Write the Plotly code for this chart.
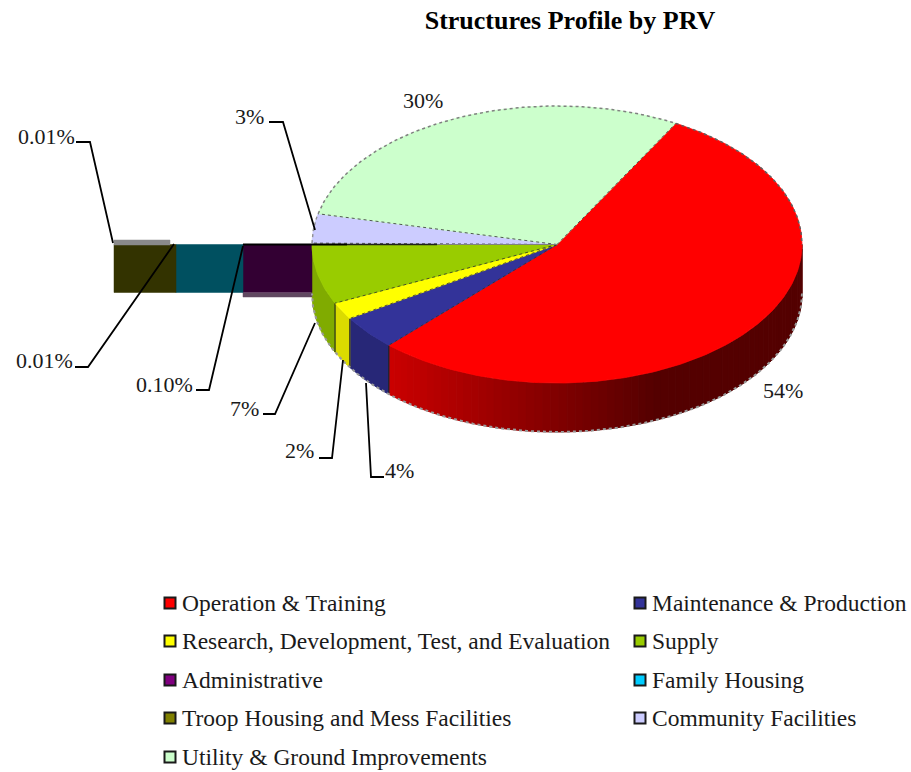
import math
import plotly.graph_objects as go

# ---- data ----
categories = ["Operation & Training", "Maintenance & Production",
              "Research, Development, Test, and Evaluation", "Supply",
              "Administrative", "Family Housing",
              "Troop Housing and Mess Facilities", "Community Facilities",
              "Utility & Ground Improvements"]
values = [54.0, 4.0, 2.0, 7.0, 0.10, 0.01, 0.01, 3.4, 29.5]
value_labels = ["54%", "4%", "2%", "7%", "0.10%", "0.01%", "0.01%", "3%", "30%"]
colors = ["#ff0000", "#333399", "#ffff00", "#99cc00", "#800080",
          "#00ccff", "#808000", "#ccccff", "#ccffcc"]
title_text = "Structures Profile by PRV"

# ---- projection of the tilted pie, in page pixels ----
CX, CY, RX, RY, DEPTH = 557.0, 244.5, 245.0, 138.5, 49.0
START_DEG = 61.0
FONT = "Liberation Serif"
TEXT = "#1a1a1a"
PAGE_W, PAGE_H = 911, 772


def pt(deg, dy=0.0):
    r = math.radians(deg)
    return CX + RX * math.cos(r), CY - RY * math.sin(r) + dy


def arc(a0, a1, dy=0.0, step=1.0):
    n = max(2, int(abs(a1 - a0) / step) + 1)
    return [pt(a0 + (a1 - a0) * i / (n - 1), dy) for i in range(n)]


def poly(points, color, width=0.0, line=None):
    return go.Scatter(x=[p[0] for p in points] + [points[0][0]],
                      y=[p[1] for p in points] + [points[0][1]],
                      mode="lines", fill="toself", fillcolor=color,
                      line=dict(color=line or color, width=width),
                      hoverinfo="skip", showlegend=False)


def path(points, color, width=1.0, dash="solid"):
    return go.Scatter(x=[p[0] for p in points], y=[p[1] for p in points],
                      mode="lines", line=dict(color=color, width=width, dash=dash),
                      hoverinfo="skip", showlegend=False)


def shade(color, f):
    r, g, b = int(color[1:3], 16), int(color[3:5], 16), int(color[5:7], 16)
    return "rgb(%d,%d,%d)" % (r * f, g * f, b * f)


total = sum(values)
spans = []
a = START_DEG
for v in values:
    spans.append((a, a - 360.0 * v / total))
    a -= 360.0 * v / total

fig = go.Figure()

# side walls: only the part of the rim facing the viewer
wall_factor = {1: 0.78, 2: 0.86, 3: 0.84}
for i, (a0, a1) in enumerate(spans):
    if a1 >= 0 or a0 <= -180:
        continue
    s0, s1 = min(a0, 0.0), max(a1, -180.0)
    if i == 0:
        # red wall: gradient from left (lit) to right (dark)
        n = 70
        for k in range(n):
            b0 = s1 + (s0 - s1) * k / n
            b1 = s1 + (s0 - s1) * (k + 1) / n
            x = pt((b0 + b1) / 2)[0]
            f = max(0.33, 0.80 - 0.47 * (x - 388) / 270)
            pts = arc(b0, b1, 0.0, 0.5) + arc(b1, b0, DEPTH, 0.5)
            fig.add_trace(poly(pts, shade(colors[0], f), 1.0))
    else:
        pts = arc(s0, s1) + arc(s1, s0, DEPTH)
        fig.add_trace(poly(pts, shade(colors[i], wall_factor.get(i, 0.8)), 1.0))
        fig.add_trace(path([pt(s0), pt(s0, DEPTH)], "#202020", 1.0))

# thin slices drawn as a flat band running out to the left
band_top, band_bottom = CY, CY + 48
band_edges = [312, 243, 176, 114]
band_cols = ["#330033", "#005060", "#333300"]
for k in range(3):
    x0, x1 = band_edges[k], band_edges[k + 1]
    fig.add_trace(poly([(x0, band_top), (x1, band_top), (x1, band_bottom), (x0, band_bottom)],
                       band_cols[k], 0.5))
fig.add_trace(poly([(114, 240), (170, 240), (170, 245), (114, 245)], "#8a8a8a", 0.5))
fig.add_trace(poly([(243, 293), (312, 293), (312, 297), (243, 297)], "#604860", 0.5))

# top face
for i, (a0, a1) in enumerate(spans):
    if abs(a0 - a1) < 0.5:
        continue
    fig.add_trace(poly([(CX, CY)] + arc(a0, a1), colors[i], 0.8))

# wedge separators
for i, (a0, a1) in enumerate(spans):
    if i in (4, 5, 6):
        continue
    fig.add_trace(path([(CX, CY), pt(a0)], "#303030", 0.8, "dot"))
fig.add_trace(path([(243, CY), (347, CY)], "#000000", 2.0))
fig.add_trace(path([(347, CY), (437, CY)], "#202020", 1.4))
fig.add_trace(path([(437, CY), (CX, CY)], "#808080", 1.2))

# jagged grey rim
fig.add_trace(path(arc(spans[7][0], spans[7][1]), "#909090", 1.4, "dot"))
fig.add_trace(path(arc(spans[8][0], spans[8][1]), "#808080", 1.5, "dot"))
fig.add_trace(path(arc(spans[0][0], 0.0), "#606060", 1.5, "dot"))
fig.add_trace(path(arc(0.0, -180.0, DEPTH), "#9a9a9a", 2.0, "dot"))

# leader lines (stub + diagonal)
leaders = [
    [(76, 142), (90, 142), (113, 243)],
    [(269, 122), (283, 122), (315, 230)],
    [(75, 367), (88, 367), (174, 244)],
    [(196, 390), (209, 390), (243, 246)],
    [(263, 414), (275, 414), (315, 323)],
    [(319, 458), (332, 458), (343, 360)],
    [(384, 477), (371, 477), (366, 383)],
]
for leader in leaders:
    fig.add_trace(path(leader, "#000000", 1.8))

# value labels: index into value_labels, x, y, anchor
label_place = [(6, 77, 136, "right"), (7, 266, 116, "right"), (8, 401, 100, "left"),
               (5, 75, 360, "right"), (4, 195, 384, "right"), (3, 261, 408, "right"),
               (2, 316, 450, "right"), (1, 383, 470, "left"), (0, 761, 390, "left")]
annotations = [dict(x=x, y=y, text=value_labels[i], showarrow=False, xanchor=anc,
                    yanchor="middle", font=dict(family=FONT, size=22, color=TEXT))
               for i, x, y, anc in label_place]

# legend built from real markers and text
legend_col = [170, 640]
legend_row = [603, 641, 680, 718, 757]
for i, name in enumerate(categories):
    x, y = legend_col[i % 2], legend_row[i // 2]
    fig.add_trace(go.Scatter(x=[x], y=[y], mode="markers",
                             marker=dict(symbol="square", size=11, color=colors[i],
                                         line=dict(color="#1a1a1a", width=2)),
                             hoverinfo="skip", showlegend=False))
    annotations.append(dict(x=x + 10, y=y, text=name, showarrow=False, xanchor="left",
                            yanchor="middle", font=dict(family=FONT, size=23.5, color=TEXT)))

fig.update_layout(
    width=PAGE_W, height=PAGE_H, autosize=False,
    margin=dict(l=0, r=0, t=0, b=0),
    paper_bgcolor="white", plot_bgcolor="white",
    title=dict(text="<b>" + title_text + "</b>", x=570 / PAGE_W, xanchor="center",
               y=1 - 20 / PAGE_H, yanchor="middle",
               font=dict(family=FONT, size=26, color="#000000")),
    xaxis=dict(range=[0, PAGE_W], visible=False, fixedrange=True),
    yaxis=dict(range=[PAGE_H, 0], visible=False, fixedrange=True),
    annotations=annotations,
    showlegend=False,
)
fig.write_html("out.html", config=dict(displayModeBar=False),
               default_width="%dpx" % PAGE_W, default_height="%dpx" % PAGE_H,
               post_script="document.body.style.margin='0';document.body.style.overflow='hidden';")
